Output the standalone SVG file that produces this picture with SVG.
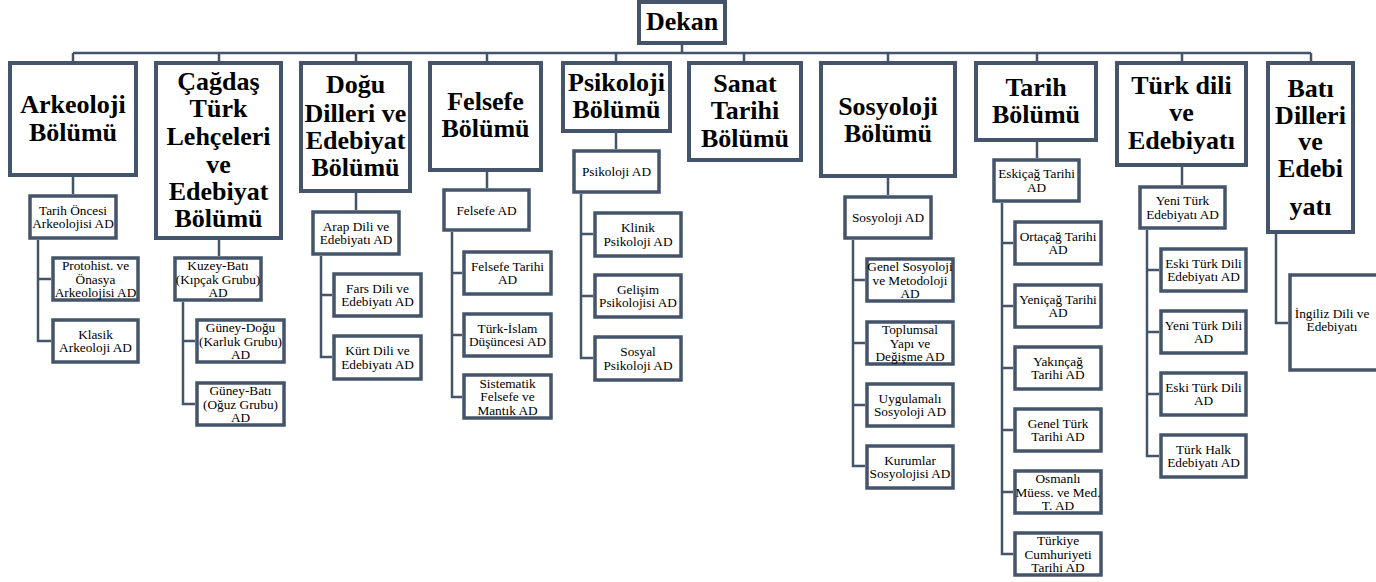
<svg xmlns="http://www.w3.org/2000/svg" width="1376" height="582" viewBox="0 0 1376 582">
<style>
.big rect{fill:#fff;stroke:#44546a;stroke-width:4}
.sub rect{fill:#fff;stroke:#44546a;stroke-width:3.5}
.big text{font-family:"Liberation Serif","Times New Roman",serif;font-weight:bold;font-size:26px;fill:#000;text-anchor:middle}
.sub text{font-family:"Liberation Serif","Times New Roman",serif;font-size:13.3px;fill:#000;text-anchor:middle}
#connectors path{fill:none;stroke:#44546a;stroke-width:2.5}
</style>
<rect width="1376" height="582" fill="#fff"/>
<g id="connectors">
<path d="M682 45V53M73 53H1311M73 53V61M219 53V61M356 53V61M487 53V61M616 53V61M744 53V61M888 53V61M1037 53V61M1182 53V61M1311 53V61"/>
<path d="M73 177V194M38 240V341H51M38 279H51"/>
<path d="M219 240V256M183 302V404H195M183 341H195"/>
<path d="M356 193V210M321 256V357H332M321 295H332"/>
<path d="M487 172V188M452 232V397H462M452 273H462M452 335H462"/>
<path d="M616 133V149M581 194V358H593M581 234H593M581 296H593"/>
<path d="M888 178V195M853 240V466H865M853 280H865M853 343H865M853 405H865"/>
<path d="M1037 142V158M1002 203V554H1013M1002 243H1013M1002 306H1013M1002 368H1013M1002 430H1013M1002 492H1013"/>
<path d="M1182 167V185M1147 230V456H1159M1147 270H1159M1147 332H1159M1147 394H1159"/>
<path d="M1276 234V323H1288"/>
</g>
<g id="dekan" class="big"><rect x="639" y="2" width="86" height="41"/><text x="682" y="30">Dekan</text></g>
<g id="arkeoloji" class="big"><rect x="10" y="63" width="126" height="112"/><text x="73" y="113">Arkeoloji</text><text x="73" y="141">Bölümü</text></g>
<g id="cagdas" class="big"><rect x="156" y="63" width="125" height="175"/><text x="218.5" y="90">Çağdaş</text><text x="218.5" y="117">Türk</text><text x="218.5" y="145">Lehçeleri</text><text x="218.5" y="172.5">ve</text><text x="218.5" y="200">Edebiyat</text><text x="218.5" y="227">Bölümü</text></g>
<g id="dogu" class="big"><rect x="301" y="63" width="109" height="128"/><text x="355.5" y="93">Doğu</text><text x="355.5" y="122">Dilleri ve</text><text x="355.5" y="148.5">Edebiyat</text><text x="355.5" y="176">Bölümü</text></g>
<g id="felsefe" class="big"><rect x="430" y="63" width="111" height="107"/><text x="485.5" y="110">Felsefe</text><text x="485.5" y="137">Bölümü</text></g>
<g id="psikoloji" class="big"><rect x="563" y="63" width="107" height="68"/><text x="616.5" y="91">Psikoloji</text><text x="616.5" y="118">Bölümü</text></g>
<g id="sanat" class="big"><rect x="689" y="63" width="112" height="97"/><text x="745" y="92">Sanat</text><text x="745" y="119">Tarihi</text><text x="745" y="147">Bölümü</text></g>
<g id="sosyoloji" class="big"><rect x="821" y="63" width="134" height="113"/><text x="888" y="115">Sosyoloji</text><text x="888" y="142">Bölümü</text></g>
<g id="tarih" class="big"><rect x="976" y="63" width="120" height="77"/><text x="1036" y="96">Tarih</text><text x="1036" y="123">Bölümü</text></g>
<g id="turkdili" class="big"><rect x="1117" y="63" width="129" height="102"/><text x="1181.5" y="94">Türk dili</text><text x="1181.5" y="121">ve</text><text x="1181.5" y="149">Edebiyatı</text></g>
<g id="bati" class="big"><rect x="1268" y="63" width="85" height="169"/><text x="1310.5" y="97">Batı</text><text x="1310.5" y="123.5">Dilleri</text><text x="1310.5" y="150">ve</text><text x="1310.5" y="177">Edebi</text><text x="1310.5" y="215">yatı</text></g>

<g id="a0" class="sub"><rect x="30" y="196" width="86" height="42"/><text x="73" y="214.8">Tarih Öncesi</text><text x="73" y="228.3">Arkeolojisi AD</text></g>
<g id="a1" class="sub"><rect x="53" y="258" width="85" height="42"/><text x="95.5" y="270">Protohist. ve</text><text x="95.5" y="283.5">Önasya</text><text x="95.5" y="297">Arkeolojisi AD</text></g>
<g id="a2" class="sub"><rect x="53" y="320" width="85" height="42"/><text x="95.5" y="338.8">Klasik</text><text x="95.5" y="352.3">Arkeoloji AD</text></g>

<g id="c0" class="sub"><rect x="175" y="258" width="86" height="42"/><text x="218" y="270">Kuzey-Batı</text><text x="218" y="283.5">(Kıpçak Grubu)</text><text x="218" y="297">AD</text></g>
<g id="c1" class="sub"><rect x="197" y="320" width="87" height="42"/><text x="240.5" y="332">Güney-Doğu</text><text x="240.5" y="345.5">(Karluk Grubu)</text><text x="240.5" y="359">AD</text></g>
<g id="c2" class="sub"><rect x="197" y="383" width="87" height="42"/><text x="240.5" y="395">Güney-Batı</text><text x="240.5" y="408.5">(Oğuz Grubu)</text><text x="240.5" y="422">AD</text></g>

<g id="d0" class="sub"><rect x="313" y="212" width="86" height="42"/><text x="356" y="230.8">Arap Dili ve</text><text x="356" y="244.3">Edebiyatı AD</text></g>
<g id="d1" class="sub"><rect x="334" y="274" width="87" height="42"/><text x="377.5" y="292.8">Fars Dili ve</text><text x="377.5" y="306.3">Edebiyatı AD</text></g>
<g id="d2" class="sub"><rect x="334" y="336" width="87" height="43"/><text x="377.5" y="355.3">Kürt Dili ve</text><text x="377.5" y="368.8">Edebiyatı AD</text></g>

<g id="f0" class="sub"><rect x="444" y="190" width="85" height="40"/><text x="486.5" y="214.5">Felsefe AD</text></g>
<g id="f1" class="sub"><rect x="464" y="252" width="87" height="42"/><text x="507.5" y="270.8">Felsefe Tarihi</text><text x="507.5" y="284.3">AD</text></g>
<g id="f2" class="sub"><rect x="464" y="314" width="87" height="42"/><text x="507.5" y="332.8">Türk-İslam</text><text x="507.5" y="346.3">Düşüncesi AD</text></g>
<g id="f3" class="sub"><rect x="464" y="375" width="87" height="43"/><text x="507.5" y="387.5">Sistematik</text><text x="507.5" y="401">Felsefe ve</text><text x="507.5" y="414.5">Mantık AD</text></g>

<g id="p0" class="sub"><rect x="574" y="151" width="85" height="41"/><text x="616.5" y="176">Psikoloji AD</text></g>
<g id="p1" class="sub"><rect x="595" y="213" width="86" height="43"/><text x="638" y="232.3">Klinik</text><text x="638" y="245.8">Psikoloji AD</text></g>
<g id="p2" class="sub"><rect x="595" y="275" width="86" height="42"/><text x="638" y="293.8">Gelişim</text><text x="638" y="307.3">Psikolojisi AD</text></g>
<g id="p3" class="sub"><rect x="595" y="337" width="86" height="43"/><text x="638" y="356.3">Sosyal</text><text x="638" y="369.8">Psikoloji AD</text></g>

<g id="s0" class="sub"><rect x="845" y="197" width="86" height="41"/><text x="888" y="222">Sosyoloji AD</text></g>
<g id="s1" class="sub"><rect x="867" y="259" width="86" height="42"/><text x="910" y="271">Genel Sosyoloji</text><text x="910" y="284.5">ve Metodoloji</text><text x="910" y="298">AD</text></g>
<g id="s2" class="sub"><rect x="867" y="322" width="86" height="42"/><text x="910" y="334">Toplumsal</text><text x="910" y="347.5">Yapı ve</text><text x="910" y="361">Değişme AD</text></g>
<g id="s3" class="sub"><rect x="867" y="384" width="86" height="42"/><text x="910" y="402.8">Uygulamalı</text><text x="910" y="416.3">Sosyoloji AD</text></g>
<g id="s4" class="sub"><rect x="867" y="446" width="86" height="42"/><text x="910" y="464.8">Kurumlar</text><text x="910" y="478.3">Sosyolojisi AD</text></g>

<g id="t0" class="sub"><rect x="994" y="160" width="85" height="41"/><text x="1036.5" y="178.3">Eskiçağ Tarihi</text><text x="1036.5" y="191.8">AD</text></g>
<g id="t1" class="sub"><rect x="1015" y="222" width="86" height="42"/><text x="1058" y="240.8">Ortaçağ Tarihi</text><text x="1058" y="254.3">AD</text></g>
<g id="t2" class="sub"><rect x="1015" y="285" width="86" height="42"/><text x="1058" y="303.8">Yeniçağ Tarihi</text><text x="1058" y="317.3">AD</text></g>
<g id="t3" class="sub"><rect x="1015" y="347" width="86" height="42"/><text x="1058" y="365.8">Yakınçağ</text><text x="1058" y="379.3">Tarihi AD</text></g>
<g id="t4" class="sub"><rect x="1015" y="409" width="86" height="42"/><text x="1058" y="427.8">Genel Türk</text><text x="1058" y="441.3">Tarihi AD</text></g>
<g id="t5" class="sub"><rect x="1015" y="471" width="86" height="42"/><text x="1058" y="483">Osmanlı</text><text x="1058" y="496.5">Müess. ve Med.</text><text x="1058" y="510">T. AD</text></g>
<g id="t6" class="sub"><rect x="1015" y="533" width="86" height="42"/><text x="1058" y="545">Türkiye</text><text x="1058" y="558.5">Cumhuriyeti</text><text x="1058" y="572">Tarihi AD</text></g>

<g id="y0" class="sub"><rect x="1140" y="187" width="85" height="41"/><text x="1182.5" y="205.3">Yeni Türk</text><text x="1182.5" y="218.8">Edebiyatı AD</text></g>
<g id="y1" class="sub"><rect x="1161" y="249" width="85" height="42"/><text x="1203.5" y="267.8">Eski Türk Dili</text><text x="1203.5" y="281.3">Edebiyatı AD</text></g>
<g id="y2" class="sub"><rect x="1161" y="311" width="85" height="42"/><text x="1203.5" y="329.8">Yeni Türk Dili</text><text x="1203.5" y="343.3">AD</text></g>
<g id="y3" class="sub"><rect x="1161" y="373" width="85" height="42"/><text x="1203.5" y="391.8">Eski Türk Dili</text><text x="1203.5" y="405.3">AD</text></g>
<g id="y4" class="sub"><rect x="1161" y="435" width="85" height="42"/><text x="1203.5" y="453.8">Türk Halk</text><text x="1203.5" y="467.3">Edebiyatı AD</text></g>

<g id="b1" class="sub"><rect x="1290" y="275" width="100" height="95"/><text x="1332" y="317.5">İngiliz Dili ve</text><text x="1332" y="331">Edebiyatı</text></g>
</svg>
